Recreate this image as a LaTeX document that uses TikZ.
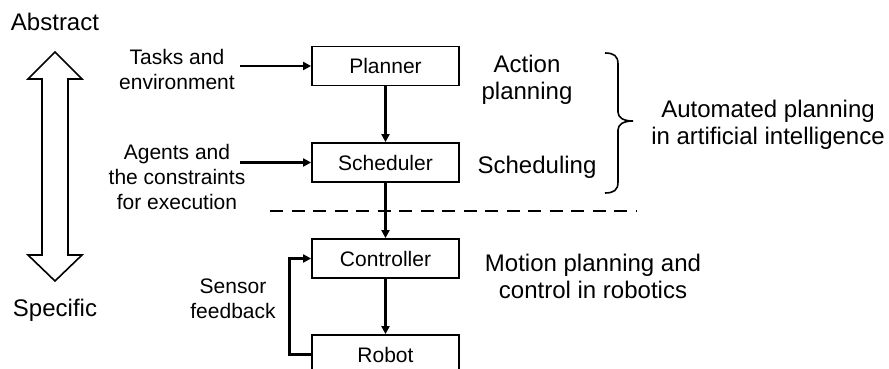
\documentclass[tikz,border=0pt]{standalone}
\usepackage{fontspec}
\setmainfont{Liberation Sans}
\usetikzlibrary{arrows.meta}
\begin{document}
\begin{tikzpicture}[x=1pt,y=-1pt,
  block/.style={draw,line width=1.8pt,minimum width=147pt,minimum height=39pt,inner sep=0pt,font=\fontsize{21}{25}\selectfont},
  lbl/.style={align=center,inner sep=0pt,font=\fontsize{21}{25}\selectfont},
  big/.style={align=center,inner sep=0pt,font=\fontsize{24}{27}\selectfont},
  flow/.style={line width=2.8pt,-{Triangle[length=8pt,width=8pt]}}]
\clip (0,0) rectangle (889,369);
\fill[white] (0,0) rectangle (889,369);

% main chain of blocks
\node[block] (planner) at (385.5,66) {Planner};
\node[block] (scheduler) at (385.5,162.5) {Scheduler};
\node[block] (controller) at (385.5,258.5) {Controller};
\node[block] (robot) at (385.5,354.5) {Robot};

\draw[flow] (planner) -- (scheduler);
\draw[flow] (scheduler) -- (controller);
\draw[flow] (controller) -- (robot);

% inputs
\node[lbl] (tasks) at (177,69) {Tasks and\\environment};
\node[lbl] (agents) at (177,177) {Agents and\\the constraints\\for execution};
\coordinate (tasksin) at (240,66);
\coordinate (agentsin) at (240,162.5);
\draw[flow] (tasksin) -- (planner.west);
\draw[flow] (agentsin) -- (scheduler.west);

% feedback loop
\draw[flow] (robot.west) -- ++(-22,0) |- (controller.west);
\node[lbl] (sensor) at (233,299) {Sensor\\feedback};

% divider
\coordinate (dashL) at (270,211);
\coordinate (dashR) at (636,211);
\draw[line width=2.8pt,dash pattern=on 13pt off 8.5pt] (dashL) -- (dashR);

% abstraction axis
\node[big] (abstract) at (55,22) {Abstract};
\node[big] (specific) at (55,310) {Specific};
\draw[line width=1.6pt,line join=miter]
  (55,52) -- (82,79) -- (68,79) -- (68,255) -- (82,255) -- (55,281)
  -- (28,255) -- (42,255) -- (42,79) -- (28,79) -- cycle;

% right-hand labels
\node[big] (action) at (527,80) {Action\\planning};
\node[big] (scheduling) at (537,167) {Scheduling};
\draw[line width=1.6pt]
  (605,53) .. controls (614,53) and (618,56) .. (618,64) -- (618,112)
  .. controls (618,118) and (624,121) .. (633,121)
  .. controls (624,121) and (618,124) .. (618,130) -- (618,182)
  .. controls (618,190) and (614,193) .. (605,193);
\node[big] (aiplan) at (768,125) {Automated planning\\in artificial intelligence};
\node[big] (robplan) at (593,276) {Motion planning and\\control in robotics};
\end{tikzpicture}
\end{document}
